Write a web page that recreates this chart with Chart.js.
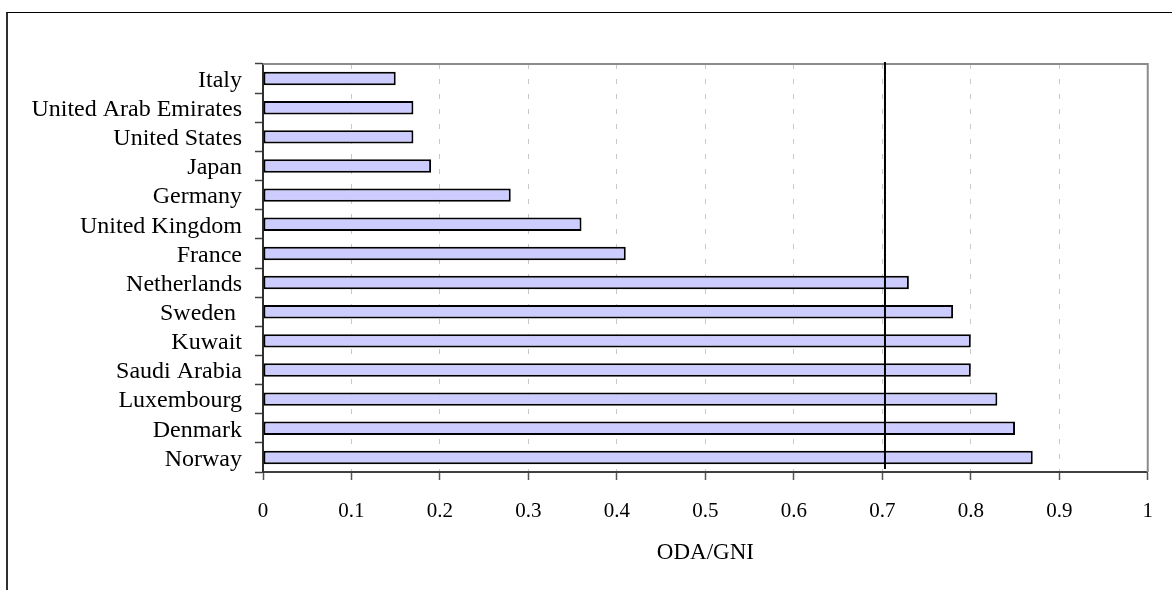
<!DOCTYPE html>
<html>
<head>
<meta charset="utf-8">
<title>ODA/GNI</title>
<script src="https://cdn.jsdelivr.net/npm/chart.js@4/dist/chart.umd.min.js"></script>
<style>
  html, body { margin: 0; padding: 0; background: #fff; overflow: hidden; }
  #wrap { position: relative; width: 1172px; height: 590px; }
  /* frame of the chart object, only left and top edge are visible */
  #frame { position: absolute; left: 6px; top: 12px; width: 1300px; height: 700px;
           border-left: 2px solid #303030; border-top: 1px solid #000; }
  #chart { position: absolute; left: 0; top: 0; }
</style>
</head>
<body>
<div id="wrap">
  <div id="frame"></div>
  <canvas id="chart" width="1172" height="590"></canvas>
</div>
<script>
// Countries, top to bottom as in the picture
var countries = ['Italy', 'United Arab Emirates', 'United States', 'Japan', 'Germany',
  'United Kingdom', 'France', 'Netherlands', 'Sweden ', 'Kuwait', 'Saudi Arabia',
  'Luxembourg', 'Denmark', 'Norway'];

// ODA as share of GNI
var odaGni = [0.15, 0.17, 0.17, 0.19, 0.28, 0.36, 0.41, 0.73, 0.78, 0.80, 0.80, 0.83, 0.85, 0.87];

// x axis ticks
var xTicks = [0, 0.1, 0.2, 0.3, 0.4, 0.5, 0.6, 0.7, 0.8, 0.9, 1];

// the 0.7 target line
var targetValue = 0.703;

var serif = "'Liberation Serif', 'Times New Roman', serif";

// draws the gray plot frame and the target line
var extrasPlugin = {
  id: 'extras',
  afterDatasetsDraw: function(chart) {
    var ctx = chart.ctx;
    var area = chart.chartArea;
    var x = chart.scales.x;

    // plot area frame (top and right side)
    ctx.save();
    ctx.strokeStyle = '#8c8c8c';
    ctx.lineWidth = 2;
    ctx.beginPath();
    ctx.moveTo(area.left, area.top);
    ctx.lineTo(area.right, area.top);
    ctx.lineTo(area.right, area.bottom);
    ctx.stroke();

    // target line
    var tx = x.getPixelForValue(targetValue);
    ctx.strokeStyle = '#000';
    ctx.lineWidth = 2;
    ctx.beginPath();
    ctx.moveTo(tx, area.top - 2);
    ctx.lineTo(tx, area.bottom - 3);
    ctx.stroke();
    ctx.restore();
  }
};

var ctx = document.getElementById('chart').getContext('2d');

var chartBar = new Chart(ctx, {
  type: 'bar',
  data: {
    labels: countries,
    datasets: [
      {
        label: 'ODA/GNI',
        data: odaGni,
        backgroundColor: '#ccccff',
        borderColor: '#000',
        borderWidth: 2,
        borderSkipped: false,
        categoryPercentage: 1,
        barPercentage: 0.46
      }
    ]
  },
  options: {
    indexAxis: 'y',
    responsive: false,
    animation: false,
    layout: { padding: { top: 64, right: 18, bottom: 0, left: 0 } },
    plugins: {
      legend: { display: false },
      tooltip: { enabled: false }
    },
    scales: {
      x: {
        type: 'linear',
        min: 0,
        max: 1,
        afterBuildTicks: function(scale) {
          scale.ticks = xTicks.map(function(v) { return { value: v }; });
        },
        afterFit: function(scale) { scale.height = 118; },
        grid: {
          color: '#c8c8c8',
          lineWidth: 1,
          tickColor: '#555',
          tickLength: 8,
          tickWidth: 1.5,
          tickBorderDash: []
        },
        border: { color: '#404040', width: 2, dash: [5, 10] },
        ticks: {
          color: '#000',
          padding: 19,
          font: { family: serif, size: 21 },
          callback: function(v) { return String(Math.round(v * 10) / 10); }
        },
        title: {
          display: true,
          text: 'ODA/GNI',
          color: '#000',
          font: { family: serif, size: 23 },
          padding: { top: 0, bottom: 23 }
        }
      },
      y: {
        type: 'category',
        afterFit: function(scale) { scale.width = 263; },
        grid: {
          drawOnChartArea: false,
          offset: true,
          tickColor: '#404040',
          tickLength: 8,
          tickWidth: 1.5
        },
        border: { color: '#303030', width: 2 },
        ticks: {
          color: '#000',
          padding: 13,
          labelOffset: 2,
          autoSkip: false,
          font: { family: serif, size: 24 }
        }
      }
    }
  },
  plugins: [extrasPlugin]
});
</script>
</body>
</html>
